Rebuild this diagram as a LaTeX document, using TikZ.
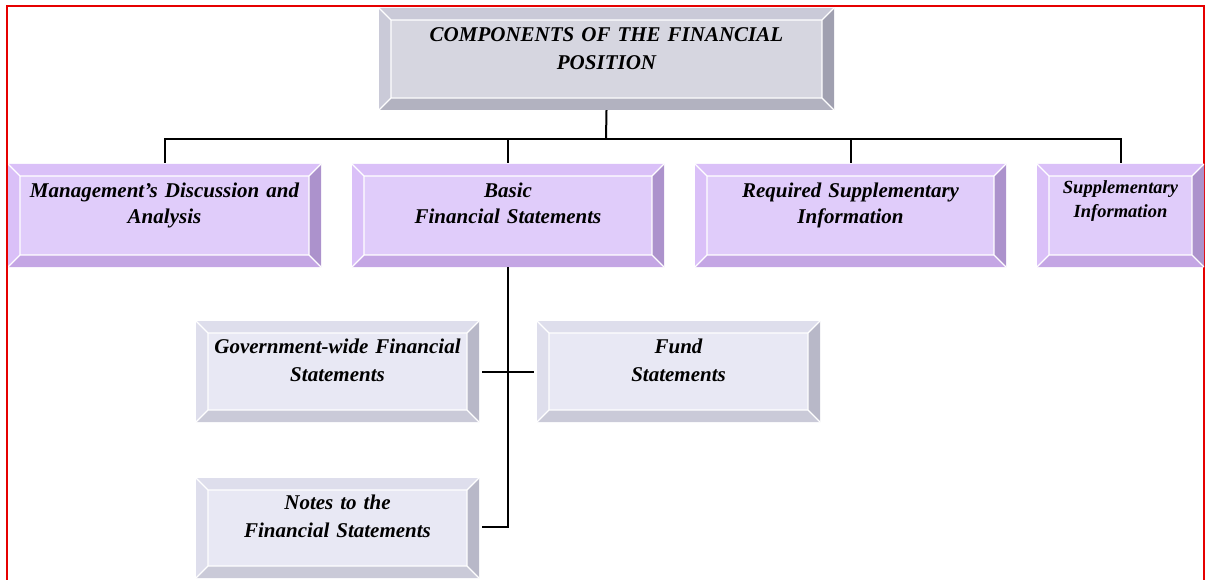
\documentclass[tikz,border=0pt]{standalone}
\usepackage{fontspec}
\setmainfont{Liberation Serif}[WordSpace=0.7]
\usetikzlibrary{positioning}

\definecolor{headface}{RGB}{214,214,224}
\definecolor{headlight}{RGB}{202,202,216}
\definecolor{headdark}{RGB}{160,160,176}
\definecolor{headmid}{RGB}{178,178,192}
\definecolor{lilaface}{RGB}{224,204,250}
\definecolor{lilalight}{RGB}{218,192,248}
\definecolor{liladark}{RGB}{172,146,204}
\definecolor{lilamid}{RGB}{196,166,228}
\definecolor{paleface}{RGB}{232,232,244}
\definecolor{palelight}{RGB}{222,222,236}
\definecolor{paledark}{RGB}{184,184,200}
\definecolor{palemid}{RGB}{202,202,216}
\definecolor{framered}{RGB}{230,0,0}

\tikzset{bevelbox/.style n args={4}{rectangle,fill=#1,inner sep=0pt,
  execute at begin node=\centering,
  font=\bfseries\itshape\fontsize{21}{26}\selectfont,
  path picture={
   \path (path picture bounding box.north west) coordinate (bvA)
         (path picture bounding box.north east) coordinate (bvB)
         (path picture bounding box.south east) coordinate (bvC)
         (path picture bounding box.south west) coordinate (bvD)
         ([xshift=12pt,yshift=-12pt]bvA) coordinate (bvAi)
         ([xshift=-12pt,yshift=-12pt]bvB) coordinate (bvBi)
         ([xshift=-12pt,yshift=12pt]bvC) coordinate (bvCi)
         ([xshift=12pt,yshift=12pt]bvD) coordinate (bvDi);
   \fill[#2] (bvA) -- (bvB) -- (bvBi) -- (bvAi) -- cycle
             (bvA) -- (bvAi) -- (bvDi) -- (bvD) -- cycle;
   \fill[#3] (bvB) -- (bvC) -- (bvCi) -- (bvBi) -- cycle;
   \fill[#4] (bvD) -- (bvDi) -- (bvCi) -- (bvC) -- cycle;
   \draw[white,line width=1.2pt] (bvAi) -- (bvBi) -- (bvCi) -- (bvDi) -- cycle
     (bvA) -- (bvAi) (bvB) -- (bvBi) (bvC) -- (bvCi) (bvD) -- (bvDi);
  }}}
\tikzset{headbox/.style={bevelbox={headface}{headlight}{headdark}{headmid},
  font=\bfseries\itshape\fontsize{21}{28}\selectfont}}
\tikzset{lilabox/.style={bevelbox={lilaface}{lilalight}{liladark}{lilamid}}}
\tikzset{palebox/.style={bevelbox={paleface}{palelight}{paledark}{palemid},
  font=\bfseries\itshape\fontsize{21}{28}\selectfont}}

\begin{document}
\begin{tikzpicture}[x=1pt,y=-1pt]

\tikzstyle{link}=[line width=2pt,black]

\useasboundingbox (0,0) rectangle (1207,580);
\draw[framered,line width=2pt] (7,585) -- (7,6) -- (1204,6) -- (1204,585);

\node[headbox,text width=455pt,text height=34pt,text depth=68pt] (head) at (606.5,59)
  {COMPONENTS OF THE FINANCIAL\\POSITION};

\node[lilabox,text width=313pt,text height=33pt,text depth=70pt] (mda) at (164.5,215.5)
  {Management’s Discussion and\\Analysis};
\node[lilabox,text width=312pt,text height=33pt,text depth=70pt] (basic) at (508,215.5)
  {Basic\\Financial Statements};
\node[lilabox,text width=311pt,text height=33pt,text depth=70pt] (rsi) at (850.5,215.5)
  {Required Supplementary\\Information};
\node[lilabox,text width=167pt,text height=30pt,text depth=73pt,
  font=\bfseries\itshape\fontsize{18.5}{24}\selectfont] (si) at (1120.5,215.5)
  {Supplementary\\Information};

\node[palebox,text width=283pt,text height=32pt,text depth=69pt] (gov) at (337.5,371.5)
  {Government-wide Financial\\Statements};
\node[palebox,text width=283pt,text height=32pt,text depth=69pt] (fund) at (678.5,371.5)
  {Fund\\Statements};
\node[palebox,text width=283pt,text height=31pt,text depth=69pt] (notes) at (337.5,528)
  {Notes to the\\Financial Statements};

\coordinate (bus) at (606,139);
\coordinate (spine) at (508,527);

\draw[link] (head.south) -- (bus);
\draw[link,shorten <=1pt] (mda.north) |- (bus);
\draw[link,shorten <=1pt] (si.north) |- (bus);
\draw[link,shorten <=1pt] (basic.north) -- (basic.north |- bus);
\draw[link,shorten <=1pt] (rsi.north) -- (rsi.north |- bus);
\draw[link] (basic.south) -- (spine) -- ([xshift=3pt]notes.east |- spine);
\draw[link,shorten <=3pt,shorten >=3pt] (gov.east) -- (fund.west);

\end{tikzpicture}
\end{document}
